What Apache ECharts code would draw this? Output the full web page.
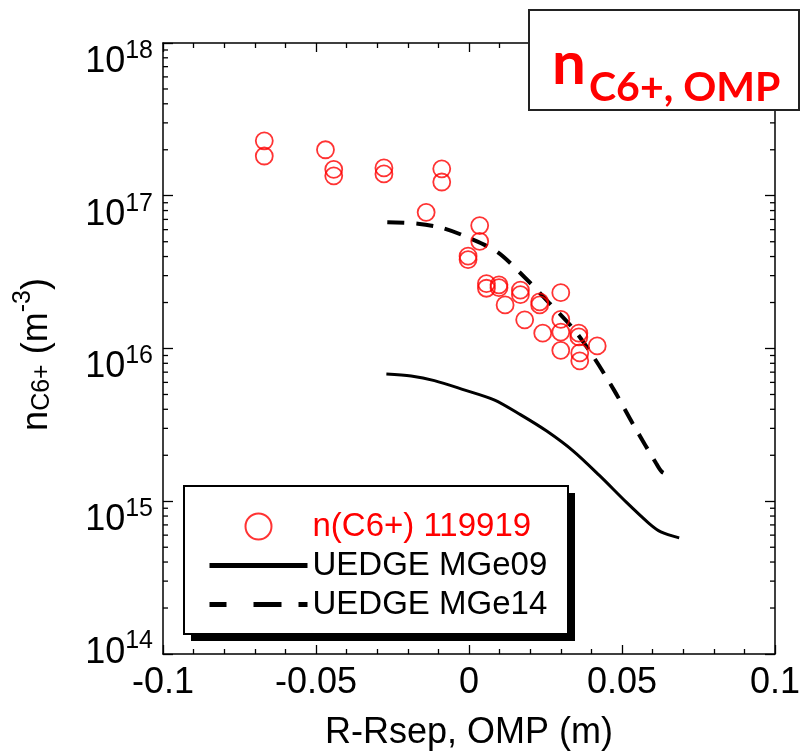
<!DOCTYPE html>
<html>
<head>
<meta charset="utf-8">
<script src="https://cdn.jsdelivr.net/npm/echarts@6/dist/echarts.min.js"></script>
<style>
  html, body { margin: 0; padding: 0; background: #fff; }
  #chart { width: 803px; height: 756px; }
</style>
</head>
<body>
<div id="chart"></div>
<script>
// Measured C6+ density at the outer midplane, shot 119919
const obsX = [-0.0669, -0.0669, -0.0469, -0.0442, -0.0442, -0.0278, -0.0278, -0.0089, -0.0089,
  -0.0140, 0.0035, 0.0035, -0.0003, -0.0003, 0.0057, 0.0057, 0.0098, 0.0098, 0.0118,
  0.0168, 0.0168, 0.0182, 0.0231, 0.0231, 0.0241, 0.0300, 0.0300, 0.0300, 0.0300,
  0.0359, 0.0359, 0.0362, 0.0362, 0.0419];
const obsN = [2.29e17, 1.82e17, 2.00e17, 1.49e17, 1.35e17, 1.52e17, 1.39e17, 1.50e17, 1.23e17,
  7.79e16, 6.38e16, 5.03e16, 4.02e16, 3.82e16, 2.66e16, 2.48e16, 2.61e16, 2.50e16, 1.93e16,
  2.41e16, 2.25e16, 1.54e16, 2.02e16, 1.93e16, 1.26e16, 2.32e16, 1.55e16, 1.28e16, 9.73e15,
  1.26e16, 1.19e16, 9.35e15, 8.30e15, 1.04e16];

// UEDGE case MGe09
const mge09X = [-0.0270, -0.0189, -0.0113, -0.0016, 0.0082, 0.0168, 0.0254, 0.0341, 0.0427,
  0.0514, 0.0589, 0.0627, 0.0687];
const mge09N = [6.80e15, 6.60e15, 6.16e15, 5.36e15, 4.61e15, 3.69e15, 2.88e15, 2.13e15, 1.47e15,
  9.86e14, 7.14e14, 6.30e14, 5.76e14];

// UEDGE case MGe14
const mge14X = [-0.0267, -0.0167, -0.0086, 0.0002, 0.0092, 0.0180, 0.0261, 0.0342, 0.0407,
  0.0475, 0.0540, 0.0611, 0.0630, 0.0653];
const mge14N = [6.71e16, 6.56e16, 6.14e16, 5.28e16, 4.29e16, 2.95e16, 2.00e16, 1.34e16, 8.81e15,
  5.30e15, 3.10e15, 1.78e15, 1.56e15, 1.49e15];

// Axis ranges and log-axis minor tick multipliers
const xRange = [-0.1, 0.1];
const yRange = [1e14, 1e18];
const yDecadeExps = [14, 15, 16, 17];
const minorMultipliers = [2, 3, 4, 5, 6, 7, 8, 9];

const FONT = "'Liberation Sans', Arial, sans-serif";
const RED = '#ff0000';

const minorVals = [];
yDecadeExps.forEach(e => minorMultipliers.forEach(m => minorVals.push(m * Math.pow(10, e))));

const tickLine = { color: '#000', width: 1.3 };
const hiddenSymbol = { color: 'transparent', borderColor: 'transparent', borderWidth: 0 };

// power-of-ten tick labels: "10" with a raised exponent; the lowest one is lifted clear of the x labels
const powBase = { fontSize: 36, lineHeight: 36, fontFamily: FONT, color: '#000', verticalAlign: 'middle' };
const powSup = { fontSize: 25, lineHeight: 25, fontFamily: FONT, color: '#000', verticalAlign: 'middle' };
const powRich = {
  b: Object.assign({}, powBase, { padding: [38, 0, 0, 0] }),
  s: Object.assign({}, powSup, { padding: [16, 0, 0, 0] }),
  bl: Object.assign({}, powBase, { padding: [0, 0, 2, 0] }),
  sl: Object.assign({}, powSup, { padding: [0, 0, 26, 0] })
};

const chart = echarts.init(document.getElementById('chart'), null, { renderer: 'canvas' });

const xAxisBase = {
  type: 'value', gridIndex: 0,
  min: xRange[0], max: xRange[1], interval: 0.05,
  axisLine: { onZero: false, lineStyle: { color: '#000', width: 1.5 } },
  axisTick: { inside: true, length: 9, lineStyle: tickLine },
  minorTick: { show: true, splitNumber: 5, length: 5, lineStyle: tickLine },
  splitLine: { show: false },
  minorSplitLine: { show: false }
};

const yAxisBase = {
  type: 'log', logBase: 10, gridIndex: 0,
  min: yRange[0], max: yRange[1],
  axisLine: { onZero: false, lineStyle: { color: '#000', width: 1.5 } },
  axisTick: { inside: true, length: 10, lineStyle: tickLine },
  splitLine: { show: false }
};

chart.setOption({
  animation: false,
  backgroundColor: '#fff',
  grid: { left: 163, top: 43, right: 23, bottom: 96, containLabel: false },
  xAxis: [
    Object.assign({}, xAxisBase, {
      position: 'bottom',
      axisLabel: { color: '#000', fontSize: 36, fontFamily: FONT, margin: 11 },
      name: 'R-Rsep, OMP (m)',
      nameLocation: 'middle',
      nameGap: 61,
      nameTextStyle: { color: '#000', fontSize: 36, fontFamily: FONT }
    }),
    Object.assign({}, xAxisBase, { position: 'top', axisLabel: { show: false } })
  ],
  yAxis: [
    Object.assign({}, yAxisBase, {
      position: 'left',
      axisLabel: {
        margin: 10,
        formatter: v => {
          const e = Math.round(Math.log10(v));
          return e === 14 ? '{bl|10}{sl|' + e + '}' : '{b|10}{s|' + e + '}';
        },
        rich: powRich
      },
      name: '{n|n}{sub|C6+}{n| (m}{sup|-3}{n|)}',
      nameLocation: 'middle',
      nameGap: 108,
      nameRotate: 90,
      nameTextStyle: {
        padding: [0, 12, 0, 0],
        rich: {
          n: { fontSize: 36, lineHeight: 44, fontFamily: FONT, color: '#000', verticalAlign: 'bottom' },
          sub: { fontSize: 25, lineHeight: 32, fontFamily: FONT, color: '#000', verticalAlign: 'bottom' },
          sup: { fontSize: 25, lineHeight: 25, fontFamily: FONT, color: '#000', verticalAlign: 'top' }
        }
      }
    }),
    Object.assign({}, yAxisBase, { position: 'right', axisLabel: { show: false } })
  ],
  legend: {
    left: 184, top: 486,
    z: 6,
    orient: 'vertical',
    padding: [24, 20, 16, 23],
    itemGap: 6,
    itemWidth: 98,
    itemHeight: 26,
    selectedMode: false,
    textStyle: { fontSize: 33, fontFamily: FONT, color: '#000' },
    data: [
      { name: 'n(C6+) 119919', textStyle: { color: RED }, itemStyle: { borderWidth: 2, borderColor: RED, color: 'transparent' } },
      { name: 'UEDGE MGe09', lineStyle: { width: 5, color: '#000' }, itemStyle: hiddenSymbol },
      { name: 'UEDGE MGe14', lineStyle: { width: 5, color: '#000', type: [17, 27, 28, 17] }, itemStyle: hiddenSymbol }
    ]
  },
  graphic: [
    // legend frame with a solid drop shadow
    {
      type: 'rect', z: 4,
      shape: { x: 191, y: 493, width: 384, height: 148 },
      style: { fill: '#000' }
    },
    {
      type: 'rect', z: 5,
      shape: { x: 184, y: 486, width: 384, height: 148 },
      style: { fill: '#fff', stroke: '#000', lineWidth: 2 }
    },
    // boxed panel title
    {
      type: 'rect', z: 100,
      shape: { x: 529, y: 10, width: 270, height: 100 },
      style: { fill: '#fff', stroke: '#222', lineWidth: 2 }
    },
    {
      type: 'text', z: 101, x: 552, y: 95,
      style: { text: 'n', fontSize: 60, fontWeight: 'bold', fontFamily: 'Lato', fill: RED, verticalAlign: 'bottom' }
    },
    {
      type: 'text', z: 101, x: 589, y: 108,
      style: { text: 'C6+, OMP', fontSize: 41, fontWeight: 'bold', fontFamily: 'Lato', fill: RED, verticalAlign: 'bottom' }
    }
  ],
  series: [
    {
      name: 'n(C6+) 119919',
      type: 'scatter',
      xAxisIndex: 0, yAxisIndex: 0,
      data: obsX.map((x, i) => [x, obsN[i]]),
      symbol: 'circle',
      symbolSize: 17,
      itemStyle: { color: 'transparent', borderColor: RED, borderWidth: 1.8 },
      z: 3
    },
    {
      name: 'UEDGE MGe09',
      type: 'line',
      xAxisIndex: 0, yAxisIndex: 0,
      data: mge09X.map((x, i) => [x, mge09N[i]]),
      symbol: 'none',
      smooth: 0.3,
      itemStyle: { color: '#000' },
      lineStyle: { color: '#000', width: 3 },
      z: 3
    },
    {
      name: 'UEDGE MGe14',
      type: 'line',
      xAxisIndex: 0, yAxisIndex: 0,
      data: mge14X.map((x, i) => [x, mge14N[i]]),
      symbol: 'none',
      smooth: 0.3,
      itemStyle: { color: '#000' },
      lineStyle: { color: '#000', width: 4, type: [17, 12] },
      z: 3
    },
    {
      // minor ticks of the logarithmic y axes, on both the left and right frame edges
      type: 'custom',
      xAxisIndex: 0, yAxisIndex: 0,
      silent: true,
      clip: false,
      data: minorVals.map(v => [xRange[0], v]),
      renderItem: function (params, api) {
        const v = api.value(1);
        const pl = api.coord([xRange[0], v]);
        const pr = api.coord([xRange[1], v]);
        const st = { stroke: '#000', lineWidth: 1.3 };
        return {
          type: 'group',
          children: [
            { type: 'line', shape: { x1: pl[0], y1: pl[1], x2: pl[0] + 5, y2: pl[1] }, style: st },
            { type: 'line', shape: { x1: pr[0], y1: pr[1], x2: pr[0] - 5, y2: pr[1] }, style: st }
          ]
        };
      },
      z: 1
    }
  ]
});
</script>
</body>
</html>
